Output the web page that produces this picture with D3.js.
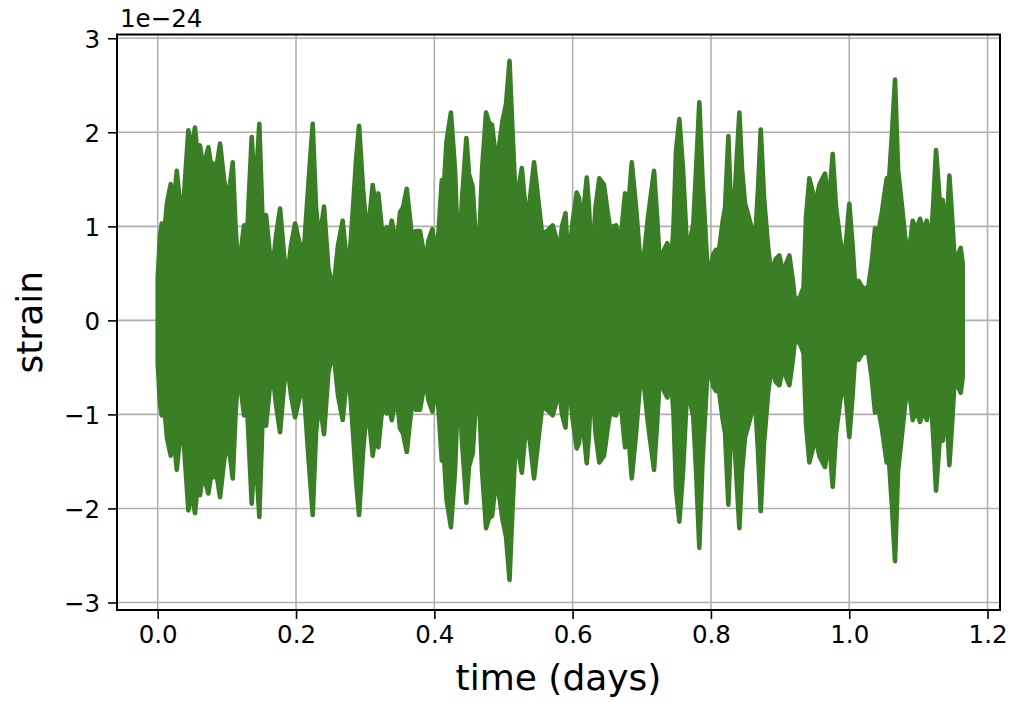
<!DOCTYPE html>
<html>
<head>
<meta charset="utf-8">
<script src="https://cdn.jsdelivr.net/npm/d3@7"></script>
<style>
  html, body { margin: 0; padding: 0; background: #ffffff; }
  svg { display: block; }
  text { font-family: "DejaVu Sans", sans-serif; fill: #000; }
</style>
</head>
<body>
<svg id="chart" width="1012" height="704"></svg>
<script>
// ---- data (time in days, strain in units of 1e-24), envelope peaks ----
const timeDays = [
  0.0000,0.0033,0.0058,0.0098,0.0134,0.0188,0.0228,0.0275,0.0315,0.0351,
  0.0395,0.0443,0.0482,0.0539,0.0576,0.0612,0.0655,0.0732,0.0771,0.0800,
  0.0843,0.0901,0.0959,0.1002,0.1046,0.1085,0.1125,0.1166,0.1205,0.1248,
  0.1291,0.1359,0.1407,0.1469,0.1516,0.1566,0.1610,0.1649,0.1711,0.1769,
  0.1826,0.1866,0.1928,0.1986,0.2043,0.2106,0.2174,0.2241,0.2289,0.2337,
  0.2405,0.2467,0.2539,0.2607,0.2675,0.2723,0.2756,0.2824,0.2868,0.2911,
  0.2969,0.3031,0.3109,0.3150,0.3190,0.3251,0.3312,0.3345,0.3384,0.3456,
  0.3504,0.3547,0.3601,0.3673,0.3735,0.3793,0.3870,0.3916,0.3971,0.4036,
  0.4108,0.4140,0.4176,0.4240,0.4299,0.4351,0.4401,0.4463,0.4502,0.4554,
  0.4631,0.4690,0.4748,0.4791,0.4834,0.4900,0.4986,0.5037,0.5087,0.5131,
  0.5173,0.5218,0.5265,0.5304,0.5341,0.5384,0.5442,0.5500,0.5558,0.5630,
  0.5711,0.5753,0.5797,0.5847,0.5897,0.5938,0.5991,0.6059,0.6093,0.6132,
  0.6204,0.6237,0.6276,0.6331,0.6386,0.6454,0.6497,0.6541,0.6584,0.6628,
  0.6685,0.6758,0.6794,0.6855,0.6917,0.6999,0.7090,0.7177,0.7221,0.7264,
  0.7322,0.7369,0.7423,0.7459,0.7495,0.7543,0.7597,0.7673,0.7712,0.7745,
  0.7785,0.7832,0.7878,0.7939,0.7987,0.8030,0.8074,0.8117,0.8171,0.8204,
  0.8252,0.8283,0.8315,0.8356,0.8411,0.8450,0.8493,0.8529,0.8565,0.8601,
  0.8638,0.8681,0.8720,0.8768,0.8830,0.8879,0.8934,0.8989,0.9050,0.9086,
  0.9134,0.9180,0.9216,0.9288,0.9339,0.9375,0.9423,0.9462,0.9505,0.9568,
  0.9607,0.9650,0.9701,0.9761,0.9809,0.9867,0.9925,1.0001,1.0048,1.0084,
  1.0134,1.0181,1.0229,1.0276,1.0323,1.0373,1.0424,1.0470,1.0542,1.0576,
  1.0619,1.0662,1.0706,1.0759,1.0807,1.0855,1.0918,1.0966,1.1024,1.1074,
  1.1121,1.1179,1.1219,1.1255,1.1313,1.1352,1.1400,1.1448,1.1487,1.1530,
  1.1574,1.1612,1.1641
];
const strainUpper = [
  0.45,0.90,1.03,0.95,1.25,1.45,1.20,1.59,1.30,1.01,
  1.50,2.02,1.80,2.05,1.75,1.86,1.62,1.84,1.65,1.67,
  1.60,1.88,1.50,1.30,1.45,1.68,1.00,0.52,0.75,1.01,
  0.90,1.95,1.30,2.09,1.05,1.12,0.80,0.48,0.90,1.19,
  0.70,0.42,0.80,1.03,0.85,0.66,1.40,2.09,1.20,0.84,
  1.21,0.56,0.31,0.80,1.06,0.70,0.48,1.20,1.70,2.07,
  1.40,0.87,1.44,1.20,1.35,0.90,0.99,0.90,1.06,0.80,
  1.15,1.20,1.40,0.91,0.95,0.95,0.62,0.85,0.97,0.66,
  1.49,1.45,1.90,2.21,1.60,0.58,1.30,1.94,1.55,1.42,
  0.51,1.60,2.21,2.10,2.08,1.66,2.12,2.30,2.76,2.00,
  1.32,1.40,1.62,1.30,1.06,1.30,1.68,1.30,0.92,0.95,
  1.01,0.90,0.69,1.00,1.14,0.56,1.00,1.36,1.30,0.98,
  1.52,1.20,0.56,1.20,1.51,1.44,1.20,0.98,1.00,1.01,
  0.80,1.35,1.10,1.68,1.20,0.45,1.10,1.59,1.10,0.56,
  0.75,0.82,0.60,1.00,1.80,2.14,1.60,0.48,0.90,1.03,
  1.60,2.32,1.50,0.70,0.38,0.70,0.75,0.75,1.06,1.20,
  1.96,1.30,0.98,1.50,2.21,1.60,1.24,1.15,1.05,0.95,
  0.84,1.40,2.03,1.30,0.75,0.48,0.65,0.69,0.48,0.60,
  0.69,0.45,0.20,0.25,0.35,1.10,1.51,1.40,1.23,1.44,
  1.50,1.56,1.20,1.77,1.20,0.87,0.59,1.24,0.80,0.38,
  0.42,0.36,0.33,0.36,0.60,0.98,0.95,1.14,1.51,1.50,
  2.00,2.56,1.60,1.24,0.90,0.66,1.06,0.95,1.08,0.95,
  1.06,0.80,1.30,1.81,1.23,1.28,0.87,1.54,1.10,0.56,
  0.70,0.77,0.60
];
const strainLower = [
  -0.45,-0.90,-1.01,-0.95,-1.25,-1.44,-1.20,-1.59,-1.30,-1.01,
  -1.50,-2.02,-1.80,-2.05,-1.75,-1.86,-1.62,-1.84,-1.65,-1.67,
  -1.60,-1.88,-1.50,-1.30,-1.45,-1.68,-1.00,-0.52,-0.75,-1.01,
  -0.90,-1.95,-1.30,-2.09,-1.05,-1.12,-0.80,-0.48,-0.90,-1.19,
  -0.70,-0.42,-0.80,-1.03,-0.85,-0.66,-1.40,-2.07,-1.20,-0.84,
  -1.21,-0.56,-0.31,-0.80,-1.06,-0.70,-0.48,-1.20,-1.70,-2.07,
  -1.40,-0.87,-1.44,-1.20,-1.35,-0.90,-0.99,-0.90,-1.06,-0.80,
  -1.15,-1.20,-1.40,-0.91,-0.95,-0.95,-0.62,-0.85,-0.97,-0.66,
  -1.49,-1.45,-1.90,-2.20,-1.60,-0.58,-1.30,-1.94,-1.55,-1.42,
  -0.51,-1.60,-2.21,-2.10,-2.08,-1.66,-2.12,-2.30,-2.76,-2.00,
  -1.32,-1.40,-1.62,-1.30,-1.06,-1.30,-1.68,-1.30,-0.92,-0.95,
  -1.01,-0.90,-0.69,-1.00,-1.14,-0.56,-1.00,-1.36,-1.30,-0.98,
  -1.52,-1.20,-0.56,-1.20,-1.51,-1.44,-1.20,-0.98,-1.00,-1.01,
  -0.80,-1.35,-1.10,-1.68,-1.20,-0.45,-1.10,-1.59,-1.10,-0.56,
  -0.75,-0.82,-0.60,-1.00,-1.80,-2.14,-1.60,-0.48,-0.90,-1.03,
  -1.60,-2.42,-1.50,-0.70,-0.38,-0.70,-0.75,-0.75,-1.06,-1.20,
  -1.96,-1.30,-0.98,-1.50,-2.21,-1.60,-1.24,-1.15,-1.05,-0.95,
  -0.84,-1.40,-2.03,-1.30,-0.75,-0.48,-0.65,-0.69,-0.48,-0.60,
  -0.69,-0.45,-0.20,-0.25,-0.35,-1.10,-1.51,-1.40,-1.23,-1.44,
  -1.50,-1.56,-1.20,-1.77,-1.20,-0.87,-0.59,-1.24,-0.80,-0.38,
  -0.42,-0.36,-0.33,-0.36,-0.60,-0.98,-0.95,-1.14,-1.51,-1.50,
  -2.00,-2.56,-1.60,-1.24,-0.90,-0.66,-1.06,-0.95,-1.08,-0.95,
  -1.06,-0.80,-1.30,-1.81,-1.23,-1.28,-0.87,-1.54,-1.10,-0.56,
  -0.70,-0.77,-0.60
];
const xTicks = [0.0, 0.2, 0.4, 0.6, 0.8, 1.0, 1.2];
const yTicks = [-3, -2, -1, 0, 1, 2, 3];
const xLabel = "time (days)";
const yLabel = "strain";
const yOffsetText = "1e\u221224";

// ---- layout ----
const svg = d3.select("#chart");
const plot = { left: 117, right: 1000, top: 34.5, bottom: 610 };
const green = "#3a7f25";
const fontSize = 24.5;

const x = d3.scaleLinear().domain([-0.0589, 1.218]).range([plot.left, plot.right]);
const y = d3.scaleLinear().domain([-3.08, 3.04]).range([plot.bottom, plot.top]);

const minus = s => String(s).replace("-", "\u2212");

// grid
const grid = svg.append("g");
grid.selectAll("line.gx").data(xTicks).join("line")
  .attr("x1", d => x(d)).attr("x2", d => x(d))
  .attr("y1", plot.top).attr("y2", plot.bottom)
  .attr("stroke", "#b0b0b0").attr("stroke-width", 1.6);
grid.selectAll("line.gy").data(yTicks).join("line")
  .attr("y1", d => y(d)).attr("y2", d => y(d))
  .attr("x1", plot.left).attr("x2", plot.right)
  .attr("stroke", "#b0b0b0").attr("stroke-width", 1.6);

// data
const data = timeDays.map((t, i) => ({ t, hi: strainUpper[i], lo: strainLower[i] }));
const area = d3.area()
  .x(d => x(d.t))
  .y0(d => y(d.lo))
  .y1(d => y(d.hi))
  .curve(d3.curveLinear);
svg.append("path")
  .datum(data)
  .attr("d", area)
  .attr("fill", green)
  .attr("stroke", green)
  .attr("stroke-width", 4.6)
  .attr("stroke-linejoin", "round");

// axes
const xAxis = d3.axisBottom(x).tickValues(xTicks).tickFormat(d3.format(".1f"))
  .tickSizeInner(9).tickSizeOuter(0).tickPadding(6);
const yAxis = d3.axisLeft(y).tickValues(yTicks).tickFormat(d => minus(d))
  .tickSizeInner(9).tickSizeOuter(0).tickPadding(8);

const gx = svg.append("g").attr("transform", `translate(0,${plot.bottom})`).call(xAxis);
const gy = svg.append("g").attr("transform", `translate(${plot.left},0)`).call(yAxis);
[gx, gy].forEach(g => {
  g.select(".domain").remove();
  g.selectAll(".tick line").attr("stroke", "#000").attr("stroke-width", 1.6);
  g.selectAll(".tick text")
    .style("font-family", "'DejaVu Sans', sans-serif")
    .style("font-size", fontSize + "px")
    .attr("fill", "#222");
});
gx.selectAll(".tick text").attr("dy", "0.72em");
gy.selectAll(".tick text").attr("dy", "0.36em");

// frame
svg.append("rect")
  .attr("x", plot.left).attr("y", plot.top)
  .attr("width", plot.right - plot.left).attr("height", plot.bottom - plot.top)
  .attr("fill", "none").attr("stroke", "#000").attr("stroke-width", 2);

// labels
svg.append("text")
  .attr("x", plot.left + 3).attr("y", 27)
  .style("font-size", fontSize + "px").attr("fill", "#222")
  .text(yOffsetText);

svg.append("text")
  .attr("x", (plot.left + plot.right) / 2).attr("y", 690)
  .attr("text-anchor", "middle")
  .style("font-size", "36px").attr("fill", "#111")
  .text(xLabel);

svg.append("text")
  .attr("transform", `translate(42,${(plot.top + plot.bottom) / 2}) rotate(-90)`)
  .attr("text-anchor", "middle")
  .style("font-size", "36px").attr("fill", "#111")
  .text(yLabel);
</script>
</body>
</html>
